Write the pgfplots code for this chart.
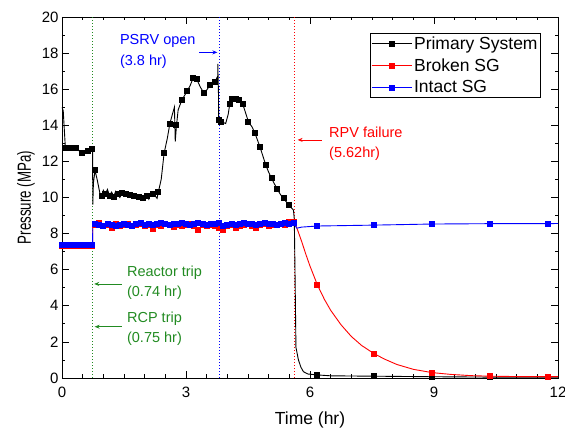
\documentclass[border=0pt]{standalone}
\usepackage{fontspec}
\setmainfont{Liberation Sans}
\usepackage{graphicx}
\usepackage{pgfplots}
\pgfplotsset{compat=1.18}
\usepackage{pgfplotstable}
\usetikzlibrary{arrows.meta}
\definecolor{annGreen}{RGB}{34,139,34}

\pgfplotstableread{
t p
0 15.0
0.03 14.8
0.08 12.8
0.15 12.75
0.25 12.75
0.35 12.75
0.45 12.5
0.5 12.45
0.55 12.5
0.62 12.6
0.7 12.7
0.74 12.65
0.745 9.6
0.76 10.8
0.8 11.5
0.85 11.0
0.92 10.2
0.97 10.1
1.0 10.4
1.05 10.2
1.1 10.45
1.15 10.1
1.2 10.3
1.25 10.05
1.3 10.35
1.35 10.2
1.4 10.0
1.45 10.25
1.5 10.1
1.55 10.2
1.6 10.05
1.65 10.15
1.7 10.0
1.75 10.1
1.8 9.95
1.85 10.05
1.9 9.9
1.95 9.95
2.0 9.85
2.05 10.1
2.1 9.9
2.15 10.3
2.2 10.2
2.25 10.1
2.3 9.95
2.33 10.3
2.4 11.0
2.47 12.45
2.55 13.3
2.61 14.1
2.67 14.6
2.72 15.0
2.74 13.1
2.77 14.0
2.81 14.85
2.9 15.4
3.03 15.9
3.1 16.2
3.18 16.65
3.26 16.55
3.35 16.1
3.44 15.77
3.5 15.95
3.58 16.23
3.65 16.3
3.70 16.4
3.74 16.6
3.765 16.3
3.77 17.4
3.785 15.8
3.79 14.3
3.85 14.2
3.96 14.1
4.02 14.6
4.06 15.2
4.1 15.45
4.2 15.45
4.27 15.4
4.37 15.2
4.44 14.7
4.51 14.2
4.6 13.9
4.67 13.55
4.79 12.8
4.86 12.3
4.93 11.8
5.0 11.4
5.07 11.06
5.14 10.75
5.21 10.45
5.29 10.15
5.36 9.95
5.48 9.6
5.56 9.4
5.6 9.3
5.62 8.8
5.64 5.4
5.66 1.7
5.72 1.0
5.78 0.6
5.84 0.35
5.95 0.22
6.18 0.17
6.5 0.12
7.55 0.1
8.95 0.07
10.35 0.05
11.75 0.05
12 0.05
}\primline

\pgfplotstableread{
t p
0.1 12.75
0.18 12.75
0.26 12.75
0.34 12.75
0.48 12.45
0.62 12.6
0.72 12.7
0.8 11.5
0.97 10.1
1.05 10.2
1.15 10.1
1.25 10.05
1.35 10.2
1.45 10.25
1.55 10.2
1.65 10.15
1.75 10.1
1.85 10.05
1.95 9.95
2.05 10.1
2.2 10.2
2.33 10.3
2.47 12.45
2.61 14.1
2.75 14.0
2.9 15.4
3.03 15.9
3.18 16.65
3.26 16.55
3.44 15.77
3.58 16.23
3.70 16.4
3.79 14.3
3.85 14.2
4.06 15.2
4.1 15.45
4.2 15.45
4.27 15.4
4.37 15.2
4.51 14.2
4.67 13.55
4.79 12.8
4.93 11.8
5.07 11.06
5.21 10.45
5.36 9.95
5.48 9.6
6.18 0.17
7.55 0.1
8.95 0.07
10.35 0.05
11.75 0.05
}\primmark

\pgfplotstableread{
t p
0 7.3
0.74 7.3
0.745 8.5
0.8 8.5
0.9 8.6
1.0 8.4
1.1 8.5
1.2 8.3
1.3 8.55
1.4 8.45
1.5 8.5
1.6 8.55
1.7 8.4
1.8 8.5
1.9 8.55
2.0 8.45
2.1 8.5
2.2 8.25
2.3 8.5
2.4 8.45
2.5 8.55
2.6 8.5
2.7 8.35
2.8 8.5
2.9 8.45
3.0 8.5
3.1 8.55
3.2 8.45
3.3 8.2
3.4 8.5
3.5 8.4
3.6 8.5
3.7 8.45
3.8 8.3
3.9 8.2
4.0 8.45
4.1 8.5
4.2 8.3
4.3 8.45
4.4 8.5
4.5 8.55
4.6 8.45
4.7 8.3
4.8 8.5
4.9 8.55
5.0 8.45
5.1 8.5
5.2 8.5
5.3 8.55
5.4 8.5
5.5 8.65
5.6 8.65
5.64 8.55
5.7 8.2
5.8 7.55
5.9 6.85
6.0 6.2
6.18 5.15
6.35 4.35
6.5 3.75
6.75 2.95
7.0 2.3
7.25 1.8
7.55 1.35
7.8 1.05
8.1 0.75
8.5 0.48
8.95 0.3
9.4 0.2
9.9 0.13
10.35 0.1
11.0 0.08
11.75 0.08
12 0.08
}\brokenline

\pgfplotstableread{
t p
0 7.3
0.08 7.3
0.16 7.3
0.24 7.3
0.32 7.3
0.4 7.3
0.48 7.3
0.56 7.3
0.64 7.3
0.72 7.3
6.18 5.15
7.55 1.35
8.95 0.3
10.35 0.1
11.75 0.08
}\brokenmark

\pgfplotstableread{
t p
0 7.35
0.74 7.35
0.745 8.55
0.8 8.55
0.9 8.5
1.0 8.45
1.1 8.55
1.2 8.5
1.3 8.4
1.4 8.5
1.5 8.55
1.6 8.5
1.7 8.45
1.8 8.55
1.9 8.6
2.0 8.5
2.1 8.55
2.2 8.5
2.3 8.55
2.4 8.6
2.5 8.55
2.6 8.5
2.7 8.55
2.8 8.55
2.9 8.6
3.0 8.55
3.1 8.5
3.2 8.55
3.3 8.6
3.4 8.55
3.5 8.5
3.6 8.55
3.7 8.55
3.8 8.6
3.9 8.4
4.0 8.5
4.1 8.55
4.2 8.5
4.3 8.55
4.4 8.6
4.5 8.55
4.6 8.55
4.7 8.5
4.8 8.55
4.9 8.6
5.0 8.55
5.1 8.55
5.2 8.5
5.3 8.55
5.4 8.6
5.5 8.55
5.6 8.6
5.68 8.3
5.8 8.36
6.18 8.42
7.55 8.47
8.95 8.53
10.35 8.55
11.75 8.55
12 8.56
}\intactline

\pgfplotstableread{
t p
0 7.35
0.08 7.35
0.16 7.35
0.24 7.35
0.32 7.35
0.4 7.35
0.48 7.35
0.56 7.35
0.64 7.35
0.72 7.35
6.18 8.42
7.55 8.47
8.95 8.53
10.35 8.55
11.75 8.55
}\intactmark

\begin{document}
\begin{tikzpicture}
\begin{axis}[
  name=ax,
  scale only axis,
  width=496pt, height=361pt,
  xmin=0, xmax=12, ymin=0, ymax=20,
  xtick={0,3,6,9,12}, ytick={0,2,...,20},
  minor x tick num=5, minor y tick num=1,
  tick align=inside,
  major tick length=7pt, minor tick length=3.5pt,
  tick style={black, line width=0.7pt},
  axis line style={line width=0.8pt},
  /pgf/number format/assume math mode=true,
  ticklabel style={font=\fontsize{15}{18}\selectfont},
  xticklabel style={yshift=-5pt},
  xlabel={Time (hr)},
  ylabel={\scalebox{0.7}[1]{Pressure (MPa)}},
  xlabel style={font=\fontsize{17.5}{20}\selectfont, at={(axis description cs:0.5,0)}, anchor=base, yshift=-47pt},
  ylabel style={font=\fontsize{19}{21}\selectfont},
  legend style={at={(0.9657,0.9557)}, anchor=north east, draw=black, line width=0.8pt,
    font=\fontsize{17.5}{19}\selectfont, inner sep=1pt, row sep=4pt,
    /tikz/every even column/.append style={column sep=2pt}},
  legend cell align=left,
  legend image code/.code={\draw[mark repeat=2,mark phase=2,#1] plot coordinates {(0pt,0pt) (20pt,0pt) (40pt,0pt)};},
  every axis plot/.append style={line width=0.9pt},
]
% event lines
\addplot[forget plot, annGreen, line width=0.7pt, dash pattern=on 1pt off 2pt] coordinates {(0.74,0) (0.74,20)};
\addplot[forget plot, blue, line width=0.7pt, dash pattern=on 1pt off 2pt] coordinates {(3.8,0) (3.8,20)};
\addplot[forget plot, red, line width=0.7pt, dash pattern=on 1pt off 2pt] coordinates {(5.62,0) (5.62,20)};

% Primary system
\addplot[forget plot, black, no marks] table {\primline};
\addplot[forget plot, black, only marks, mark=square*, mark size=2.5pt] table {\primmark};
% Broken SG
\addplot[forget plot, red, no marks] table {\brokenline};
\addplot[forget plot, red, only marks, mark=square*, mark size=2.5pt, restrict x to domain=0.78:5.62] table {\brokenline};
\addplot[forget plot, red, only marks, mark=square*, mark size=2.5pt] table {\brokenmark};
% Intact SG
\addplot[forget plot, blue, no marks] table {\intactline};
\addplot[forget plot, blue, only marks, mark=square*, mark size=2.5pt, restrict x to domain=0.78:5.62] table {\intactline};
\addplot[forget plot, blue, only marks, mark=square*, mark size=2.5pt] table {\intactmark};

\addlegendimage{black, line width=0.9pt, mark=square*, mark size=2.5pt}
\addlegendentry{Primary System}
\addlegendimage{red, line width=0.9pt, mark=square*, mark size=2.5pt}
\addlegendentry{Broken SG}
\addlegendimage{blue, line width=0.9pt, mark=square*, mark size=2.5pt}
\addlegendentry{Intact SG}

% annotations
\node[anchor=base west, text=blue, font=\fontsize{14.5}{16}\selectfont, inner sep=0pt] at (axis cs:1.40,18.45) {PSRV open};
\node[anchor=base west, text=blue, font=\fontsize{14.5}{16}\selectfont, inner sep=0pt] at (axis cs:1.40,17.29) {(3.8 hr)};
\draw[blue, line width=0.7pt, -{Stealth[length=5pt,width=4pt]}] (axis cs:3.32,18.04) -- (axis cs:3.76,18.04);

\node[anchor=base west, text=red, font=\fontsize{14.5}{16}\selectfont, inner sep=0pt] at (axis cs:6.46,13.35) {RPV failure};
\node[anchor=base west, text=red, font=\fontsize{14.5}{16}\selectfont, inner sep=0pt] at (axis cs:6.46,12.24) {(5.62hr)};
\draw[red, line width=0.7pt, -{Stealth[length=5pt,width=4pt]}] (axis cs:6.28,13.19) -- (axis cs:5.70,13.19);

\node[anchor=base west, text=annGreen, font=\fontsize{14.5}{16}\selectfont, inner sep=0pt] at (axis cs:1.57,5.6) {Reactor trip};
\node[anchor=base west, text=annGreen, font=\fontsize{14.5}{16}\selectfont, inner sep=0pt] at (axis cs:1.57,4.49) {(0.74 hr)};
\draw[annGreen, line width=0.7pt, -{Stealth[length=5pt,width=4pt]}] (axis cs:1.45,5.21) -- (axis cs:0.78,5.21);

\node[anchor=base west, text=annGreen, font=\fontsize{14.5}{16}\selectfont, inner sep=0pt] at (axis cs:1.57,3.10) {RCP trip};
\node[anchor=base west, text=annGreen, font=\fontsize{14.5}{16}\selectfont, inner sep=0pt] at (axis cs:1.57,1.99) {(0.75 hr)};
\draw[annGreen, line width=0.7pt, -{Stealth[length=5pt,width=4pt]}] (axis cs:1.45,2.84) -- (axis cs:0.79,2.84);
\end{axis}
\pgfresetboundingbox
\path ([xshift=-62pt,yshift=-52pt]ax.south west) rectangle ([xshift=7pt,yshift=17pt]ax.north east);
\end{tikzpicture}
\end{document}
